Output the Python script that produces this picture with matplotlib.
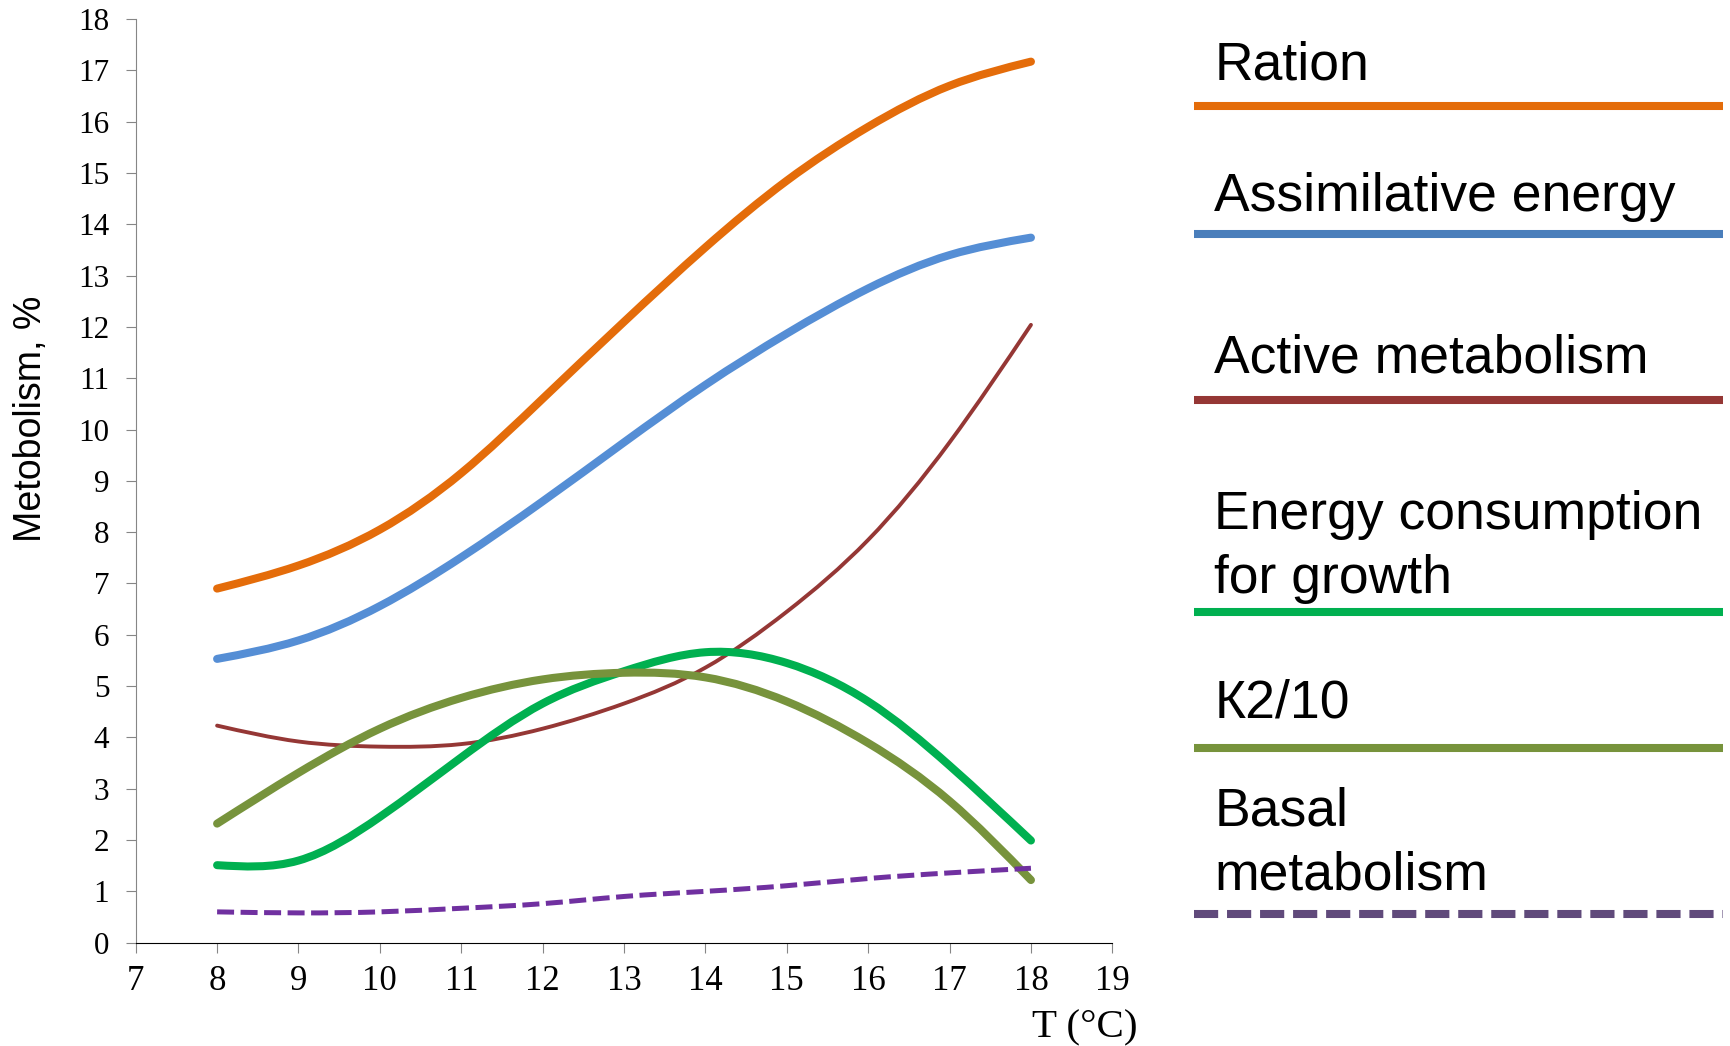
import matplotlib
matplotlib.use('Agg')
import numpy as np
import matplotlib.pyplot as plt
from matplotlib.path import Path
from matplotlib.patches import PathPatch
from matplotlib.lines import Line2D

# values, T = 8..18 degC
temps = [8, 9, 10, 11, 12, 13, 14, 15, 16, 17, 18]
ration = [6.9, 7.35, 8.05, 9.15, 10.6, 12.1, 13.55, 14.85, 15.9, 16.7, 17.17]
assimilative = [5.53, 5.89, 6.56, 7.51, 8.6, 9.75, 10.87, 11.87, 12.75, 13.4, 13.74]
active = [4.23, 3.92, 3.82, 3.87, 4.17, 4.66, 5.36, 6.45, 7.85, 9.75, 12.04]
growth = [1.51, 1.6, 2.45, 3.61, 4.66, 5.29, 5.66, 5.45, 4.7, 3.45, 1.99]
k2 = [2.32, 3.31, 4.17, 4.77, 5.13, 5.26, 5.17, 4.70, 3.89, 2.76, 1.22]
basal = [0.60, 0.58, 0.60, 0.67, 0.76, 0.90, 1.0, 1.11, 1.25, 1.36, 1.45]

labels = ['Ration', 'Assimilative energy', 'Active metabolism',
          'Energy consumption\nfor growth', 'К2/10', 'Basal\nmetabolism']


def smooth_path(xs, ys):
    # natural cubic spline through the points, drawn as bezier segments
    xs = np.asarray(xs, float)
    ys = np.asarray(ys, float)
    n = len(xs)
    h = np.diff(xs)
    d = np.diff(ys) / h
    A = np.zeros((n, n))
    b = np.zeros(n)
    A[0, 0], A[0, 1], b[0] = 2, 1, 3 * d[0]
    A[-1, -2], A[-1, -1], b[-1] = 1, 2, 3 * d[-1]
    for i in range(1, n - 1):
        A[i, i - 1] = h[i]
        A[i, i] = 2 * (h[i - 1] + h[i])
        A[i, i + 1] = h[i - 1]
        b[i] = 3 * (h[i] * d[i - 1] + h[i - 1] * d[i])
    m = np.linalg.solve(A, b)
    verts = [(xs[0], ys[0])]
    codes = [Path.MOVETO]
    for i in range(n - 1):
        verts.append((xs[i] + h[i] / 3, ys[i] + m[i] * h[i] / 3))
        verts.append((xs[i + 1] - h[i] / 3, ys[i + 1] - m[i + 1] * h[i] / 3))
        verts.append((xs[i + 1], ys[i + 1]))
        codes += [Path.CURVE4] * 3
    return Path(verts, codes)


fig = plt.figure(figsize=(17.31, 10.46), dpi=100)
ax = fig.add_axes([0.0784, 0.0988, 0.5642, 0.883])

series = [
    (ration, '#E46C0A', 5.8, None),
    (assimilative, '#558ED5', 5.8, None),
    (active, '#953735', 2.8, None),
    (growth, '#00B050', 5.8, None),
    (k2, '#77933C', 5.8, None),
    (basal, '#7030A0', 3.6, (0, (3.4, 1.3))),
]
for ys, color, lw, dash in series:
    patch = PathPatch(smooth_path(temps, ys), fill=False, edgecolor=color, lw=lw,
                      capstyle='round', joinstyle='round')
    if dash is not None:
        patch.set_linestyle(dash)
        patch.set_capstyle('butt')
    ax.add_patch(patch)

ax.set_xlim(7, 19)
ax.set_ylim(0, 18)
ax.set_xticks(range(7, 20))
ax.set_yticks(range(0, 19))
for s in ['top', 'right']:
    ax.spines[s].set_visible(False)
ax.spines['left'].set_color('#868686')
ax.spines['bottom'].set_color('#000000')
ax.tick_params(axis='both', direction='out', length=7, width=0.8, color='#868686')
ax.tick_params(axis='x', labelsize=25, pad=9)
ax.tick_params(axis='y', labelsize=22.4, pad=12)
for lab in ax.get_xticklabels() + ax.get_yticklabels():
    lab.set_fontfamily('Liberation Serif')

fig.text(0.657, 0.0083, 'T (°C)', ha='right', va='baseline', fontsize=29.5,
         family='Liberation Serif')
fig.text(0.018, 0.6, 'Metobolism, %', rotation=90, ha='center', va='center',
         fontsize=27, family='Liberation Sans')

# legend drawn by hand on the right: text above each line sample
legend_colors = ['#E46C0A', '#4A7EBB', '#953735', '#00B050', '#77933C', '#604A7B']
line_y = [106, 234, 400, 612, 748, 914]
text_y = [[79], [211], [373], [529, 593], [718], [825, 889]]
for lab, col, ly, tys in zip(labels, legend_colors, line_y, text_y):
    for part, ty in zip(lab.split('\n'), tys):
        fig.text(0.7015, 1 - ty / 1046, part, ha='left', va='baseline',
                 fontsize=38.5, family='Liberation Sans')
    ln = Line2D([0.6898, 0.9954], [1 - ly / 1046] * 2, transform=fig.transFigure,
                color=col, lw=5.8, solid_capstyle='butt')
    if lab.startswith('Basal'):
        ln.set_linestyle((0, (3, 1.1)))
        ln.set_dash_capstyle('butt')
    fig.add_artist(ln)

fig.savefig('out.png', dpi=100)
